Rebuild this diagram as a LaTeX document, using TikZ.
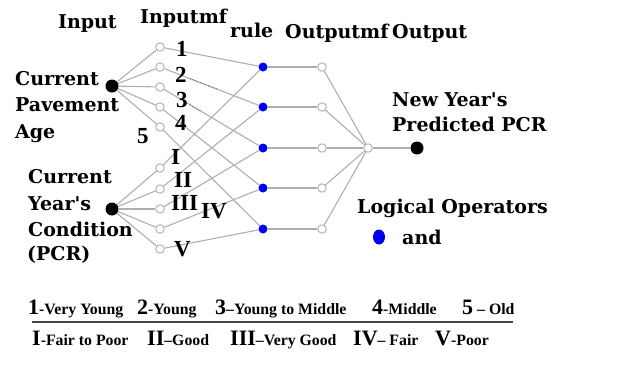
\documentclass[tikz,border=0pt]{standalone}
\usepackage{fontspec}
\setmainfont{DejaVu Serif}[Ligatures=TeXOff]
\newfontfamily\nfont{Liberation Serif}
\usetikzlibrary{shapes.geometric,backgrounds,calc}
\definecolor{ln}{RGB}{175,175,175}
\definecolor{rb}{RGB}{0,0,240}
\definecolor{dk}{RGB}{70,70,70}
\newcommand\BN[1]{{\fontsize{22}{22}\selectfont #1}}
\begin{document}
\begin{tikzpicture}[x=1pt,y=-1pt,
 mf/.style={circle,draw=ln,fill=white,line width=0.9pt,minimum size=8.5pt,inner sep=0pt},
 rl/.style={circle,fill=rb,minimum size=9pt,inner sep=0pt},
 inp/.style={circle,fill=black,minimum size=13pt,inner sep=0pt},
 wire/.style={ln,line width=1.1pt},
 lbl/.style={font=\fontsize{19}{19}\selectfont\bfseries,inner sep=0pt,anchor=base west},
 num/.style={font=\fontsize{23}{23}\selectfont\nfont\bfseries,inner sep=0pt,anchor=base west},
 leg/.style={font=\fontsize{15.8}{16}\selectfont\nfont\bfseries,inner sep=0pt,anchor=base west}
]
\path[use as bounding box] (0,0) rectangle (619,365);

% input nodes
\node[inp] (in1) at (112,86) {};
\node[inp] (in2) at (112,209) {};
% input mf
\foreach \i/\y in {1/47,2/67,3/87,4/107,5/127} {\node[mf] (a\i) at (160,\y) {};}
\foreach \i/\y in {1/168,2/189,3/209,4/229,5/249} {\node[mf] (b\i) at (160,\y) {};}
% rules and output mf
\foreach \i/\y in {1/67,2/107,3/148,4/188,5/229} {
  \node[rl] (r\i) at (263,\y) {};
  \node[mf] (o\i) at (322,\y) {};
}
\node[mf] (agg) at (368,148) {};
\node[inp] (out) at (417,148) {};

\begin{scope}[on background layer]
\foreach \i in {1,...,5} {
  \draw[wire] (in1) -- (a\i);
  \draw[wire] (in2) -- (b\i);
  \draw[wire] (a\i) -- (r\i);
  \draw[wire] (b\i) -- (r\i);
  \draw[wire] (r\i) -- (o\i);
  \draw[wire] (o\i) -- (agg);
}
\draw[wire] (agg) -- (out);
\draw[dk,dotted,line width=0.8pt] ($(a2)!0.29!(r2)$) -- ($(a2)!0.55!(r2)$);
\draw[dk,dotted,line width=0.8pt] ($(a3)!0.29!(r3)$) -- ($(a3)!0.39!(r3)$);
\end{scope}

% headers
\node[lbl] (h1) at (58,28) {Input};
\node[lbl] (h2) at (140,23) {Inputmf};
\node[lbl] (h3) at (230,37) {rule};
\node[lbl] (h4) at (285,38) {Outputmf};
\node[lbl] (h5) at (392,38) {Output};

% input labels
\node[lbl] (t1) at (15,85) {Current};
\node[lbl] (t2) at (15,111) {Pavement};
\node[lbl] (t3) at (15,138) {Age};
\node[lbl] (t4) at (28,183) {Current};
\node[lbl] (t5) at (28,210) {Year's};
\node[lbl] (t6) at (28,236) {Condition};
\node[lbl] (t7) at (27,260) {(PCR)};

\node[lbl] (t8) at (392,106) {New Year's};
\node[lbl] (t9) at (392,131) {Predicted PCR};
\node[lbl] (t10) at (357,213) {Logical Operators};
\node[ellipse,fill=rb,minimum width=12pt,minimum height=15pt,inner sep=0pt] (lgd) at (379,237) {};
\node[lbl] (t11) at (402,244) {and};

% mf labels
\node[num] (n1) at (176,56) {1};
\node[num] (n2) at (175,82) {2};
\node[num] (n3) at (176,107) {3};
\node[num] (n4) at (175,130) {4};
\node[num] (n5) at (137,143) {5};
\node[num] (m1) at (171,164) {I};
\node[num] (m2) at (174,187) {II};
\node[num] (m3) at (171,210) {III};
\node[num] (m4) at (201,218) {IV};
\node[num] (m5) at (174,256) {V};

% legend
\coordinate (la) at (32,322);
\coordinate (lb) at (513,322);
\draw[dk,line width=1.8pt] (la) -- (lb);
\node[leg] (g1) at (28,314) {\BN{1}-Very Young};
\node[leg] (g2) at (137,314) {\BN{2}-Young};
\node[leg] (g3) at (215,314) {\BN{3}\textendash Young to Middle};
\node[leg] (g4) at (372,314) {\BN{4}-Middle};
\node[leg] (g5) at (462,314) {\BN{5} \textendash\ Old};
\node[leg] (k1) at (32,345) {\BN{I}-Fair to Poor};
\node[leg] (k2) at (147,345) {\BN{II}\textendash Good};
\node[leg] (k3) at (230,345) {\BN{III}\textendash Very Good};
\node[leg] (k4) at (353,345) {\BN{IV}\textendash\ Fair};
\node[leg] (k5) at (435,345) {\BN{V}-Poor};
\end{tikzpicture}
\end{document}
